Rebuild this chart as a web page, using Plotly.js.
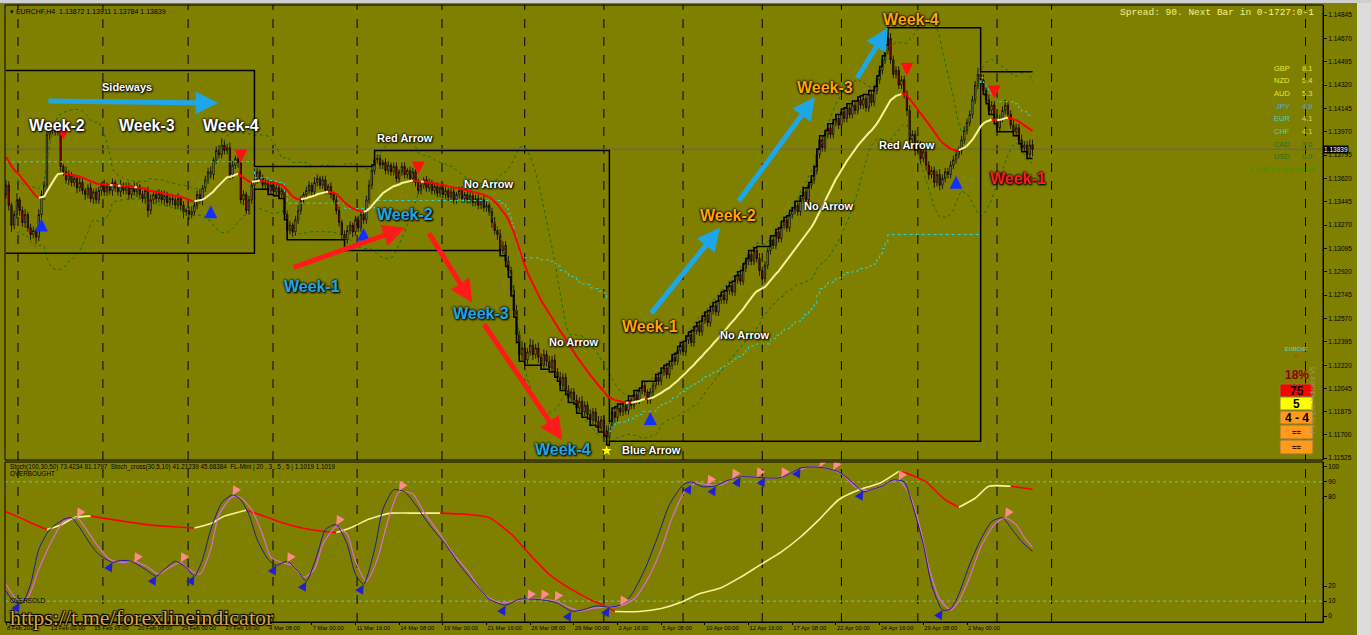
<!DOCTYPE html>
<html><head><meta charset="utf-8">
<script src="https://cdn.plot.ly/plotly-3.0.1.min.js"></script>
<style>html,body{margin:0;padding:0;background:#808000;}#chart{width:1371px;height:635px;}</style>
</head><body><div id="chart"></div>
<script>
// ---------------- DATA ----------------
const firstOpen = 1.1350;
const closes = [
1.1357,1.1342,1.1327,1.1335,1.1346,1.1338,1.1329,1.1335,1.1325,1.1320,
1.1323,1.1318,1.1335,1.1350,1.1357,1.1395,1.1398,1.1400,1.1397,1.1398,
1.1371,1.1367,1.1361,1.1365,1.1359,1.1362,1.1355,1.1359,1.1353,1.1350,
1.1355,1.1347,1.1352,1.1346,1.1353,1.1357,1.1352,1.1356,1.1353,1.1359,
1.1355,1.1352,1.1357,1.1353,1.1356,1.1350,1.1355,1.1352,1.1356,1.1350,
1.1347,1.1353,1.1338,1.1346,1.1350,1.1347,1.1351,1.1346,1.1349,1.1344,
1.1347,1.1346,1.1342,1.1347,1.1342,1.1337,1.1338,1.1335,1.1337,1.1342,
1.1350,1.1346,1.1355,1.1361,1.1367,1.1365,1.1376,1.1383,1.1380,1.1387,
1.1383,1.1385,1.1365,1.1372,1.1377,1.1374,1.1346,1.1350,1.1338,1.1346,
1.1357,1.1361,1.1367,1.1362,1.1357,1.1359,1.1353,1.1357,1.1352,1.1355,
1.1350,1.1353,1.1335,1.1323,1.1327,1.1322,1.1331,1.1338,1.1346,1.1350,
1.1353,1.1357,1.1352,1.1359,1.1362,1.1357,1.1361,1.1353,1.1356,1.1350,
1.1346,1.1338,1.1329,1.1320,1.1316,1.1323,1.1327,1.1322,1.1331,1.1325,
1.1335,1.1331,1.1346,1.1357,1.1368,1.1376,1.1377,1.1372,1.1374,1.1368,
1.1372,1.1367,1.1371,1.1362,1.1367,1.1371,1.1365,1.1368,1.1362,1.1367,
1.1359,1.1353,1.1357,1.1361,1.1355,1.1359,1.1353,1.1356,1.1351,1.1355,
1.1350,1.1353,1.1348,1.1352,1.1346,1.1350,1.1353,1.1347,1.1350,1.1346,
1.1349,1.1344,1.1347,1.1342,1.1346,1.1340,1.1342,1.1337,1.1329,1.1323,
1.1320,1.1308,1.1312,1.1300,1.1293,1.1278,1.1263,1.1245,1.1230,1.1235,
1.1226,1.1232,1.1237,1.1230,1.1235,1.1228,1.1222,1.1230,1.1225,1.1220,
1.1226,1.1217,1.1213,1.1207,1.1213,1.1203,1.1198,1.1202,1.1196,1.1190,
1.1195,1.1187,1.1192,1.1185,1.1181,1.1187,1.1180,1.1175,1.1181,1.1173,
1.1168,1.1177,1.1187,1.1183,1.1190,1.1187,1.1192,1.1188,1.1196,1.1192,
1.1200,1.1196,1.1203,1.1207,1.1202,1.1196,1.1202,1.1207,1.1213,1.1210,
1.1217,1.1220,1.1215,1.1222,1.1228,1.1225,1.1233,1.1237,1.1232,1.1241,
1.1245,1.1239,1.1248,1.1252,1.1247,1.1256,1.1260,1.1254,1.1263,1.1267,
1.1262,1.1271,1.1275,1.1271,1.1278,1.1282,1.1277,1.1286,1.1290,1.1285,
1.1295,1.1300,1.1305,1.1300,1.1308,1.1302,1.1293,1.1287,1.1297,1.1308,
1.1316,1.1312,1.1322,1.1317,1.1327,1.1331,1.1325,1.1335,1.1338,1.1342,
1.1337,1.1347,1.1352,1.1346,1.1357,1.1361,1.1368,1.1380,1.1391,1.1385,
1.1395,1.1400,1.1395,1.1404,1.1407,1.1402,1.1412,1.1407,1.1415,1.1410,
1.1417,1.1413,1.1421,1.1417,1.1422,1.1415,1.1425,1.1419,1.1428,1.1436,
1.1443,1.1451,1.1458,1.1467,1.1451,1.1440,1.1443,1.1432,1.1436,1.1425,
1.1413,1.1391,1.1395,1.1383,1.1387,1.1377,1.1382,1.1372,1.1365,1.1368,
1.1359,1.1365,1.1357,1.1362,1.1367,1.1365,1.1372,1.1376,1.1380,1.1383,
1.1391,1.1398,1.1404,1.1410,1.1421,1.1432,1.1440,1.1436,1.1428,1.1421,
1.1413,1.1417,1.1406,1.1400,1.1407,1.1413,1.1417,1.1410,1.1402,1.1397,
1.1400,1.1391,1.1385,1.1387,1.1380,1.13872,1.13839];
// upper / lower wick lengths in pips
const wickUp = [
4,3,2,3,5,2,3,4,2,3, 3,2,4,3,3,4,3,3,2,4, 3,2,4,3,2,3,2,4,3,2, 3,4,2,3,3,2,4,3,2,3,
2,3,4,2,3,3,2,4,3,2, 3,2,3,4,2,3,3,2,4,3, 2,3,3,4,2,3,2,3,4,3, 3,4,2,3,3,4,2,3,4,5,
3,3,4,3,2,3,4,3,2,3, 3,10,3,2,3,3,2,3,2,3, 3,2,4,3,3,2,3,4,3,2, 3,3,2,4,3,2,3,3,2,3,
2,3,3,2,3,4,3,2,3,3, 2,3,3,4,4,7,3,3,2,3, 3,2,3,3,2,3,3,2,3,3, 2,3,3,2,3,3,2,3,3,2,
3,3,2,3,3,2,3,3,2,3, 3,2,3,3,2,3,3,2,3,4, 3,4,3,3,4,3,4,4,3,5, 4,3,5,4,3,4,3,4,3,4,
3,4,3,4,3,3,4,3,3,4, 3,4,3,3,4,3,3,4,3,3, 4,3,3,4,3,3,2,3,3,2, 3,3,2,3,3,2,3,3,2,3,
3,2,3,3,2,3,3,2,3,3, 2,3,3,2,3,3,2,3,3,2, 3,3,2,3,3,2,3,3,2,3, 3,2,3,3,2,3,4,3,3,2,
3,3,2,3,3,2,3,3,2,3, 3,2,3,3,2,3,3,4,3,3, 3,3,3,2,3,3,2,3,3,2, 3,3,2,3,3,2,3,3,3,3,
3,3,4,8,4,3,3,3,3,3, 3,4,3,3,4,3,3,4,3,3, 3,3,4,3,3,3,3,3,3,3, 3,3,3,3,3,3,5,2,4,3,
4,3,3,4,3,3,4,3,3,4, 3,3,4,3,3,4,3.9];
const wickDown = [
3,4,5,3,3,4,3,4,3,4, 3,5,3,3,4,3,4,3,3,3, 4,3,3,4,3,3,4,3,3,4, 3,3,4,3,3,4,3,3,3,4,
3,3,4,3,3,4,3,3,4,3, 3,4,5,3,3,4,3,3,4,3, 3,4,3,3,4,5,3,4,3,3, 3,3,4,3,3,3,4,3,3,3,
3,3,4,3,3,4,3,4,3,3, 3,3,3,3,3,3,3,3,3,3, 3,3,4,7,3,4,3,3,3,3, 3,3,3,3,3,3,3,3,3,3,
3,3,3,4,8,3,3,4,3,3, 3,3,3,3,3,3,3,3,3,3, 3,3,3,3,3,3,3,3,3,3, 3,3,3,3,3,3,3,3,3,3,
3,3,3,3,3,3,3,3,3,3, 3,3,3,3,3,3,3,3,4,3, 4,4,3,4,5,4,5,6,5,4, 4,3,3,4,3,4,3,3,4,3,
3,4,3,4,3,3,4,3,3,4, 3,4,3,3,4,3,4,3,3,4, 6,3,3,4,3,3,3,3,3,3, 3,3,3,3,3,3,3,3,3,3,
3,3,3,3,3,3,3,3,3,3, 3,3,3,3,3,3,3,3,3,3, 3,3,3,3,3,3,3,3,3,3, 3,3,3,3,3,3,4,5,3,3,
3,3,3,3,3,3,3,3,3,3, 3,3,3,3,3,3,3,3,3,3, 3,3,3,3,3,3,3,3,3,3, 3,3,3,3,3,3,3,3,3,3,
3,3,3,3,3,3,3,3,3,3, 4,4,3,4,3,4,3,4,4,3, 4,3,4,3,3,3,3,3,3,3, 3,3,3,3,3,3,3,3,3,3,
3,3,3,3,3,3,3,3,3,3, 3,3,3,3,3,3,5.5];

// month boxes (running high / low), first bar of each month
const periodStarts = [0, 91, 221, 357];
const carryHigh = 1.1443, carryLow = 1.1306;   // February range carried from before the window
const emaPeriod = 24, emaSeed = 1.1380;
const bbPeriod = 20, bbDev = 2;

// signal arrows
const sigUpBar = [13, 75, 131, 236, 348];
const sigUpPrice = [1.1332, 1.1342, 1.1325, 1.1187, 1.1364];
const sigDnBar = [21, 86, 151, 330, 362];
const sigDnPrice = [1.1391, 1.1374, 1.1365, 1.1439, 1.1422];
const starBar = [220], starPrice = [1.1158];

// lower panel: Stoch(100,30,50)
const slowBars = [0,5,11,15,20,25,31,38,45,53,60,69,75,80,88,93,104,115,121,126,133,141,148,159,170,177,185,192,199,207,214,219,223,232,240,247,254,262,269,276,284,291,298,305,313,320,327,331,337,344,349,355,360,368,376];
const slowVals = [70,66,61,58,61,66,67,65,63,61,60,59,62,67,71,68,61,57,56,59,65,69,69,69,68,66,55,41,28,18,11,7,3,3,5,9,15,19,26,34,43,53,65,78,85,89,97,95,90,78,73,79,87,87,85];
// Stoch_cross main (blue) and signal (pink)
const blueBars = [0,3,6,9,12,16,21,24,27,31,34,39,42,46,51,55,58,62,66,69,72,75,79,83,86,89,92,96,99,103,107,110,114,117,121,125,128,131,135,138,142,146,150,155,161,166,172,177,183,188,193,197,202,207,211,216,221,225,229,234,239,243,248,251,255,260,264,269,273,278,283,287,291,295,300,305,309,314,317,321,325,329,332,336,339,343,346,349,353,357,361,365,368,372,376];
const blueVals = [16.7,9.3,8.7,21.3,44.7,58,64.7,66,59.3,48,41.3,36,37.3,36.7,31.3,26.7,31.3,36.7,32.7,26.7,38,58,76,81.3,78,68,51.3,38,34,36.7,30,23.3,41.3,58,61.3,48,28,21.3,44.7,71.3,84.7,83.3,74.7,61.3,48,34.7,21.3,11.3,7.3,11.3,11.3,10.7,8.7,3.3,4,6.7,6,7.3,14,31.3,54.7,74.7,88,90,86.7,87.3,90.7,93.3,93.3,92.7,92.7,95.3,99.3,100,99.3,96.7,91.3,83.3,84.7,87.3,91.3,90,74.7,48,21.3,4,4.7,14.7,34.7,51.3,63.3,66,59.3,50,43.3];
const pinkBars = [0,4,8,12,17,21,26,29,34,38,42,47,52,56,60,64,67,71,75,78,83,86,90,94,97,102,105,109,113,116,121,125,128,132,136,140,144,149,153,159,164,170,175,181,186,191,196,201,206,210,215,220,225,230,235,240,244,249,253,257,262,266,271,275,280,284,289,294,298,303,307,311,316,319,324,327,331,335,338,342,346,349,353,357,362,366,370,373,376];
const pinkVals = [21.3,11.3,12.7,31.3,51.3,63.3,66,59.3,46,38,36,36.7,32.7,28,32.7,36,31.3,28,44.7,68,80,79.3,71.3,54.7,39.3,35.3,34,26,31.3,48,60,54.7,36.7,23.3,38,64.7,83.3,82,70,54.7,41.3,28,14.7,8.7,10,11.3,11.3,10,6,3.3,5.3,6,6.7,11.3,24.7,44.7,66,84.7,89.3,88,88,92,93.3,93.3,92.7,93.3,96.7,100,100,98,94,86.7,84,86,90,91.3,81.3,58,32.7,11.3,4,10,26,46,61.3,66,61.3,52.7,46];
const crossUpBars = [5,39,55,69,99,110,131,183,207,221,251,260,269,278,291,314,343];
const crossUpVals = [9,36,27,27,34,23,21,7,3,6,88,87,93,93,99,84,4];
const crossDnBars = [26,47,64,83,103,121,144,191,196,201,225,257,266,275,284,298,303,327,366];
const crossDnVals = [66,36,36,81,36,61,84,11,11,10,7,88,92,93,93,100,98,91,66];

// axis tick labels
const xTickLabels = ['8 Feb 2019','13 Feb 00:00','15 Feb 16:00','20 Feb 08:00','25 Feb 00:00','27 Feb 16:00','4 Mar 08:00','7 Mar 00:00','11 Mar 16:00','14 Mar 08:00','19 Mar 00:00','21 Mar 16:00','26 Mar 08:00','29 Mar 00:00','2 Apr 16:00','5 Apr 08:00','10 Apr 00:00','12 Apr 16:00','17 Apr 08:00','22 Apr 00:00','24 Apr 16:00','29 Apr 08:00','2 May 00:00'];
const barsPerLabel = 16;
const priceTickLabels = ['1.14845','1.14670','1.14495','1.14320','1.14145','1.13970','1.13795','1.13620','1.13445','1.13270','1.13095','1.12920','1.12745','1.12570','1.12395','1.12220','1.12045','1.11875','1.11700','1.11525'];
const stochTicks = [0,10,20,80,90,100];
const currencies = ['GBP','NZD','AUD','JPY','EUR','CHF','CAD','USD'];
const strengths = ['8.1','5.4','5.3','4.9','4.1','4.1','3.0','0.9'];

// ---------------- DERIVED ----------------
const PIP = 0.0001;
const N = closes.length;
const bars = closes.map((_, i) => i);
const opens = closes.map((c, i) => i === 0 ? firstOpen : closes[i - 1]);
const highs = closes.map((c, i) => Math.max(c, opens[i]) + wickUp[i] * PIP);
const lows = closes.map((c, i) => Math.min(c, opens[i]) - wickDown[i] * PIP);

const runHi = [], runLo = [];
let ch, cl;
for (let i = 0; i < N; i++) {
  if (periodStarts.includes(i)) {
    ch = i === 0 ? Math.max(carryHigh, highs[i]) : highs[i];
    cl = i === 0 ? Math.min(carryLow, lows[i]) : lows[i];
  } else { ch = Math.max(ch, highs[i]); cl = Math.min(cl, lows[i]); }
  runHi.push(ch); runLo.push(cl);
}
const runMid = runHi.map((h, i) => (h + runLo[i]) / 2);

const ema = []; let pv = emaSeed; const alpha = 2 / (emaPeriod + 1);
closes.forEach(c => { pv = pv + alpha * (c - pv); ema.push(pv); });

const bbU = [], bbL = [];
for (let i = 0; i < N; i++) {
  if (i < 4) { bbU.push(null); bbL.push(null); continue; }
  const w = closes.slice(Math.max(0, i - bbPeriod + 1), i + 1);
  const m = w.reduce((p, q) => p + q, 0) / w.length;
  const sd = Math.sqrt(w.reduce((p, q) => p + (q - m) ** 2, 0) / w.length);
  bbU.push(m + bbDev * sd); bbL.push(m - bbDev * sd);
}

function slopeRuns(xs, ys) {
  const up = {x: [], y: []}, dn = {x: [], y: []};
  let i = 0;
  while (i < xs.length - 1) {
    const rising = ys[i + 1] >= ys[i];
    const t = rising ? up : dn;
    let j = i + 1;
    while (j < xs.length - 1 && (ys[j + 1] >= ys[j]) === rising) j++;
    for (let k = i; k <= j; k++) { t.x.push(xs[k]); t.y.push(ys[k]); }
    t.x.push(null); t.y.push(null);
    i = j;
  }
  return {up, dn};
}
const maRuns = slopeRuns(bars, ema);
const slowRuns = slopeRuns(slowBars, slowVals);

// ---------------- STYLE / GEOMETRY ----------------
const BG = '#808000';
const W = 1371, H = 635, ML = 5, MR = 48, MT = 5, MB = 13;
const PW = W - ML - MR, PH = H - MT - MB;
const px2x = px => (px - ML) / PW;       // pixel -> paper (for decorations only)
const px2y = py => (H - MB - py) / PH;
const xRange = [-0.37, 482.4];
const mainDomain = [px2y(460), 1];
const lowDomain = [0, px2y(462)];
const gridBars = [4.4, 35.5, 66.7, 97.8, 128.6, 159.7, 190, 219, 248, 277, 306, 334, 363, 383, 476];
const CYAN = '#1ea7e6', ORANGE = '#ffa500', REDT = '#ff1a1a';
const glow = '0 0 2px #000, 0 0 3px #000, 1px 1px 2px #000';

const traces = [
  {type: 'candlestick', x: bars, open: opens, high: highs, low: lows, close: closes,
   xaxis: 'x', yaxis: 'y', whiskerwidth: 0,
   increasing: {line: {color: '#000', width: 0.8}, fillcolor: '#aaaaaa'},
   decreasing: {line: {color: '#000', width: 0.8}, fillcolor: '#c00000'},
   hoverinfo: 'skip', showlegend: false},
  {type: 'scatter', mode: 'lines', x: bars, y: bbU, line: {color: '#1d6b14', width: 1, dash: 'dot'}, hoverinfo: 'skip'},
  {type: 'scatter', mode: 'lines', x: bars, y: bbL, line: {color: '#1d6b14', width: 1, dash: 'dot'}, hoverinfo: 'skip'},
  {type: 'scatter', mode: 'lines', x: bars, y: runMid, line: {color: '#2ad6d6', width: 1, dash: 'dot', shape: 'hv'}, hoverinfo: 'skip'},
  {type: 'scatter', mode: 'lines', x: bars, y: runHi, line: {color: '#000', width: 1.5, shape: 'hv'}, hoverinfo: 'skip'},
  {type: 'scatter', mode: 'lines', x: bars, y: runLo, line: {color: '#000', width: 1.5, shape: 'hv'}, hoverinfo: 'skip'},
  {type: 'scatter', mode: 'lines', x: maRuns.dn.x, y: maRuns.dn.y, line: {color: '#ff0000', width: 2}, hoverinfo: 'skip'},
  {type: 'scatter', mode: 'lines', x: maRuns.up.x, y: maRuns.up.y, line: {color: '#f6f29a', width: 2}, hoverinfo: 'skip'},
  {type: 'scatter', mode: 'markers', x: sigUpBar, y: sigUpPrice, marker: {symbol: 'arrow-up', size: 13, color: '#1030ff'}, hoverinfo: 'skip'},
  {type: 'scatter', mode: 'markers', x: sigDnBar, y: sigDnPrice, marker: {symbol: 'arrow-down', size: 13, color: '#ff1010'}, hoverinfo: 'skip'},
  {type: 'scatter', mode: 'markers', x: starBar, y: starPrice, marker: {symbol: 'star', size: 8, color: '#ffff00'}, hoverinfo: 'skip'},
  // lower panel
  {type: 'scatter', mode: 'lines', x: slowRuns.dn.x, y: slowRuns.dn.y, xaxis: 'x2', yaxis: 'y2', line: {color: '#ff0000', width: 1.6, shape: 'spline', smoothing: 0.6}, hoverinfo: 'skip'},
  {type: 'scatter', mode: 'lines', x: slowRuns.up.x, y: slowRuns.up.y, xaxis: 'x2', yaxis: 'y2', line: {color: '#f6f29a', width: 1.6, shape: 'spline', smoothing: 0.6}, hoverinfo: 'skip'},
  {type: 'scatter', mode: 'lines', x: pinkBars, y: pinkVals, xaxis: 'x2', yaxis: 'y2', line: {color: '#e06ad6', width: 1.2, shape: 'spline', smoothing: 0.6}, hoverinfo: 'skip'},
  {type: 'scatter', mode: 'lines', x: blueBars, y: blueVals, xaxis: 'x2', yaxis: 'y2', line: {color: '#1c1c9c', width: 1, shape: 'spline', smoothing: 0.6}, hoverinfo: 'skip'},
  {type: 'scatter', mode: 'markers', x: crossUpBars, y: crossUpVals, xaxis: 'x2', yaxis: 'y2', marker: {symbol: 'arrow-up', size: 9, angle: 30, color: '#2020d0'}, hoverinfo: 'skip'},
  {type: 'scatter', mode: 'markers', x: crossDnBars, y: crossDnVals, xaxis: 'x2', yaxis: 'y2', marker: {symbol: 'arrow-down', size: 9, angle: 30, color: '#ff8a8a'}, hoverinfo: 'skip'}
];

// ---------------- ANNOTATIONS ----------------
const ann = [];
function dataText(text, x, y, color, size) {
  ann.push({xref: 'x', yref: 'y', x, y, text, showarrow: false,
    font: {family: 'Liberation Sans, Arial, sans-serif', size, color, weight: 'bold', shadow: glow}});
}
function dataArrow(x0, y0, x1, y1, color) {
  ann.push({xref: 'x', yref: 'y', axref: 'x', ayref: 'y', x: x1, y: y1, ax: x0, ay: y0, text: '',
    showarrow: true, arrowhead: 2, arrowsize: 0.9, arrowwidth: 5, arrowcolor: color});
}
function pxText(px, py, text, color, size, anchor, extra) {
  ann.push(Object.assign({xref: 'paper', yref: 'paper', x: px2x(px), y: px2y(py), text, showarrow: false,
    xanchor: anchor || 'left', yanchor: 'middle',
    font: {family: 'Liberation Sans, Arial, sans-serif', size, color}}, extra || {}));
}

dataArrow(15, 1.1420, 77.7, 1.14185, CYAN);
dataArrow(104.8, 1.1295, 146.2, 1.1325, REDT);
dataArrow(154.6, 1.1322, 170.7, 1.1269, REDT);
dataArrow(174.7, 1.1254, 203.7, 1.1166, REDT);
dataArrow(235.9, 1.1260, 261.5, 1.1325, CYAN);
dataArrow(268, 1.1344, 296.3, 1.1423, CYAN);
dataArrow(311.4, 1.1436, 323, 1.1475, CYAN);

dataText('Sideways', 44.3, 1.14305, '#ffffff', 11);
dataText('Week-2', 18.7, 1.1402, '#ffffff', 16);
dataText('Week-3', 51.6, 1.1402, '#ffffff', 16);
dataText('Week-4', 82.4, 1.1402, '#ffffff', 16);
dataText('Red Arrow', 146, 1.13923, '#ffffff', 11);
dataText('No Arrow', 177, 1.13578, '#ffffff', 11);
dataText('Week-2', 146, 1.1335, CYAN, 16);
dataText('Week-1', 112, 1.1281, CYAN, 16);
dataText('Week-3', 174, 1.1261, CYAN, 16);
dataText('Week-4', 204, 1.1159, CYAN, 16);
dataText('No Arrow', 208, 1.12394, '#ffffff', 11);
dataText('Blue Arrow', 236.6, 1.11585, '#ffffff', 11);
dataText('Week-1', 236, 1.1251, ORANGE, 16);
dataText('Week-2', 264.5, 1.1334, ORANGE, 16);
dataText('Week-3', 300, 1.1430, ORANGE, 16);
dataText('Week-4', 331.5, 1.1481, ORANGE, 16);
dataText('No Arrow', 270.7, 1.12447, '#ffffff', 11);
dataText('No Arrow', 301.5, 1.13414, '#ffffff', 11);
dataText('Red Arrow', 330, 1.13871, '#ffffff', 11);
dataText('Week-1', 370.7, 1.1362, REDT, 16);

// headers
pxText(8, 11, '▾ EURCHF,H4  1.13872 1.13911 1.13784 1.13839', '#000', 7);
pxText(1316, 12, 'Spread: 90. Next Bar in 0-1727:0-1', '#f2f28c', 9.5, 'right',
  {font: {family: 'Liberation Mono, monospace', size: 9.5, color: '#f2f28c'}});
pxText(8, 467, 'Stoch(100,30,50) 73.4234 81.1797  Stoch_cross(30,5,10) 41.21239 45.68384  FL-Mini | 20 , 3 , 5 , 5 | 1.1019 1.1019', '#000', 6.3);
pxText(8, 474, 'OVERBOUGHT', '#000', 6.3);
pxText(8, 600, 'OVERSOLD', '#000', 6.3);
// watermark
pxText(8, 617, 'https://t.me/forexlineindicator', '#d9a441', 22, 'left',
  {font: {family: 'Liberation Serif, serif', size: 22, color: '#d9a441', shadow: '1px 1px 1px #000, -1px -1px 1px #000, 1px -1px 1px #000, -1px 1px 1px #000'}});
// current price tag
ann.push({xref: 'paper', yref: 'y', x: 1, y: closes[N - 1], xanchor: 'left', yanchor: 'middle', text: closes[N - 1].toFixed(5),
  showarrow: false, bgcolor: '#000', borderpad: 0, font: {family: 'Liberation Sans, Arial, sans-serif', size: 6.5, color: '#fff'}});

// currency strength list
const curColors = ['#e6e632','#e6e632','#e6e632','#52aecb','#3fd2c4','#3fd2cf','#2f6d1c','#2f6d1c'];
const valColors = ['#e6e632','#e6e632','#e6e632','#52aecb','#d6d660','#d6d660','#2f6d1c','#2f6d1c'];
currencies.forEach((c, k) => {
  const py = 68 + k * 12.7;
  pxText(1292, py, c, curColors[k], 7.5, 'right');
  pxText(1300, py, strengths[k], valColors[k], 7.5, 'left');
});
pxText(1318, 169, 'EURCHF 0.0 >BUY', '#2a9a12', 7.5, 'right');

// widget
pxText(1297, 349, 'EURCHF', '#4fc6d8', 5.5, 'center', {font: {family: 'Liberation Sans', size: 5.5, color: '#4fc6d8', weight: 'bold'}});
pxText(1297, 356, '▪▪', '#c02020', 5, 'center');
pxText(1297, 361, '▪▪▪▪', '#2ea02e', 5, 'center');
pxText(1297, 375, '18%', '#8b0000', 12, 'center', {font: {family: 'Liberation Sans', size: 12, color: '#8b0000', weight: 'bold'}});
const boxes = [[384, 397, '#ff0000', '75', 12], [397, 410, '#ffff00', '5', 12], [411, 424, '#ff9a1a', '4 - 4', 12], [425, 439, '#ff9a1a', '≈≈', 8], [440, 454, '#ff9a1a', '≈≈', 8]];
const shapes = [];
boxes.forEach(b => {
  shapes.push({type: 'rect', xref: 'paper', yref: 'paper', x0: px2x(1280), x1: px2x(1313), y0: px2y(b[1]), y1: px2y(b[0]),
    fillcolor: b[2], line: {color: '#8a7a30', width: 1}});
  ann.push({xref: 'paper', yref: 'paper', x: px2x(1296.5), y: px2y((b[0] + b[1]) / 2 + 0.5), text: b[3], showarrow: false,
    xanchor: 'center', yanchor: 'middle', height: b[1] - b[0] - 1, valign: 'middle',
    font: {family: 'Liberation Sans', size: b[4], color: '#000', weight: 'bold'}});
});
ann.push({xref: 'paper', yref: 'paper', x: px2x(1318), y: px2y(400), text: 'Forex Line Indicator V5', textangle: -90, showarrow: false,
  font: {family: 'Liberation Sans', size: 6.5, color: '#9a9a60'}});

// ---------------- SHAPES ----------------
gridBars.forEach(g => {
  shapes.push({type: 'line', xref: 'x', yref: 'paper', x0: g, x1: g, y0: 0, y1: 1, layer: 'below', line: {color: '#000', width: 1, dash: 'dash'}});
});
shapes.push({type: 'line', xref: 'paper', yref: 'y', x0: 0, x1: 1, y0: closes[N - 1], y1: closes[N - 1], layer: 'below', line: {color: '#6a6a52', width: 1.5}});
[90, 10].forEach(v => shapes.push({type: 'line', xref: 'paper', yref: 'y2', x0: 0, x1: 1, y0: v, y1: v, layer: 'below', line: {color: '#3cd0d0', width: 1, dash: 'dot'}}));
shapes.push({type: 'rect', xref: 'paper', yref: 'paper', x0: 0, x1: 1, y0: mainDomain[0], y1: 1, line: {color: '#000', width: 1}});
shapes.push({type: 'rect', xref: 'paper', yref: 'paper', x0: 0, x1: 1, y0: 0, y1: lowDomain[1], line: {color: '#000', width: 1}});
shapes.push({type: 'rect', xref: 'paper', yref: 'paper', x0: px2x(1357), x1: px2x(1372), y0: px2y(636), y1: px2y(-1), fillcolor: '#dcdcdc', line: {width: 0}});
shapes.push({type: 'rect', xref: 'paper', yref: 'paper', x0: px2x(-1), x1: px2x(1372), y0: px2y(3), y1: px2y(-1), fillcolor: '#d0d0d0', line: {width: 0}});

const tickFont = {family: 'Liberation Sans, Arial, sans-serif', size: 6.5, color: '#000'};
const layout = {
  width: W, height: H, margin: {l: ML, r: MR, t: MT, b: MB},
  paper_bgcolor: BG, plot_bgcolor: BG, showlegend: false, hovermode: false,
  xaxis: {domain: [0, 1], range: xRange, anchor: 'y', showticklabels: false, showgrid: false, zeroline: false,
    rangeslider: {visible: false}, ticks: ''},
  xaxis2: {domain: [0, 1], range: xRange, anchor: 'y2', matches: 'x', showgrid: false, zeroline: false,
    tickvals: xTickLabels.map((_, k) => k * barsPerLabel), ticktext: xTickLabels, ticks: 'outside', ticklen: 2,
    tickangle: 0, tickcolor: '#000', tickfont: {family: 'Liberation Sans, Arial, sans-serif', size: 5.8, color: '#000'},
    ticklabelposition: 'outside right', showline: true, linecolor: '#000'},
  yaxis: {domain: mainDomain, range: [1.11510, 1.14920], anchor: 'x', side: 'right', showgrid: false, zeroline: false,
    tickvals: priceTickLabels.map(Number), ticktext: priceTickLabels, ticks: 'outside', ticklen: 3, tickcolor: '#000',
    tickfont: tickFont, showline: true, linecolor: '#000'},
  yaxis2: {domain: lowDomain, range: [-4, 103.3], anchor: 'x2', side: 'right', showgrid: false, zeroline: false,
    tickvals: stochTicks, ticktext: stochTicks.map(String), ticks: 'outside', ticklen: 3, tickcolor: '#000',
    tickfont: tickFont, showline: true, linecolor: '#000'},
  annotations: ann, shapes: shapes
};
Plotly.newPlot('chart', traces, layout, {displayModeBar: false, staticPlot: true});
</script>
</body></html>
